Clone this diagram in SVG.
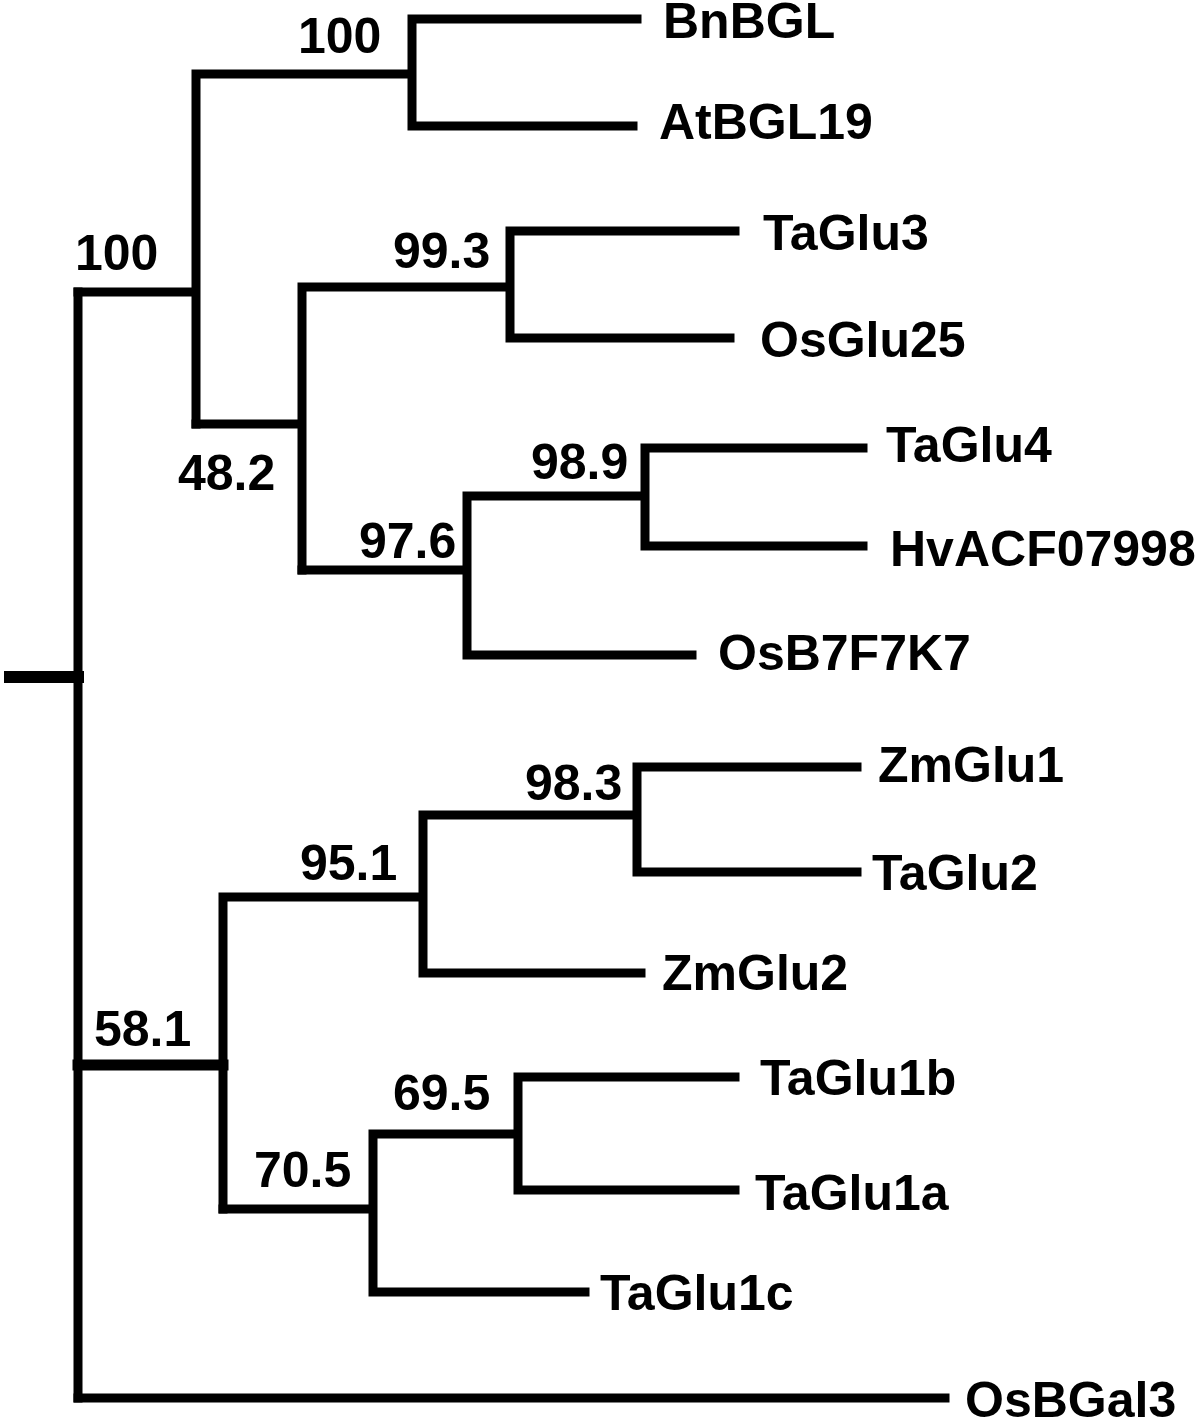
<svg xmlns="http://www.w3.org/2000/svg" width="1200" height="1425" viewBox="0 0 1200 1425">
<style>
.br{fill:none;stroke:#000;stroke-width:9;stroke-linecap:square;stroke-linejoin:miter}
.lb{font-family:"Liberation Sans",Arial,sans-serif;font-weight:bold;font-size:50px;fill:#000}
</style>
<rect width="1200" height="1425" fill="#fff"/>
<g id="connectors">
<path class="br" d="M10 677H78" style="stroke-width:12"/>
<path class="br" d="M78 292V1398"/>
<path class="br" d="M78 292H196M196 74V424M196 74H412M412 19V126M412 19H637M412 126H633"/>
<path class="br" d="M196 424H302M302 287V570M302 287H510M510 231V338M510 231H735M510 338H730"/>
<path class="br" d="M302 570H467M467 496V655M467 655H692M467 496H645M645 448V546M645 448H863M645 546H863"/>
<path class="br" d="M78 1065H223" style="stroke-width:11"/>
<path class="br" d="M223 897V1209M223 897H423M423 815V973M423 973H641M423 815H637M637 767V872M637 767H857M637 872H857"/>
<path class="br" d="M223 1209H373M373 1134V1292M373 1292H585M373 1134H518M518 1077V1190M518 1077H735M518 1190H735"/>
<path class="br" d="M78 1398H945"/>
</g>
<g id="support-labels">
<text class="lb" x="298" y="53">100</text>
<text class="lb" x="75" y="270">100</text>
<text class="lb" x="393" y="268">99.3</text>
<text class="lb" x="178" y="490">48.2</text>
<text class="lb" x="531" y="479">98.9</text>
<text class="lb" x="359" y="558">97.6</text>
<text class="lb" x="525" y="800">98.3</text>
<text class="lb" x="300" y="880">95.1</text>
<text class="lb" x="94" y="1046">58.1</text>
<text class="lb" x="254" y="1187">70.5</text>
<text class="lb" x="393" y="1110">69.5</text>
</g>
<g id="leaf-BnBGL"><text class="lb" x="663" y="38">BnBGL</text></g>
<g id="leaf-AtBGL19"><text class="lb" x="659" y="139">AtBGL19</text></g>
<g id="leaf-TaGlu3"><text class="lb" x="763" y="250">TaGlu3</text></g>
<g id="leaf-OsGlu25"><text class="lb" x="760" y="357">OsGlu25</text></g>
<g id="leaf-TaGlu4"><text class="lb" x="886" y="462">TaGlu4</text></g>
<g id="leaf-HvACF07998"><text class="lb" x="890" y="566">HvACF07998</text></g>
<g id="leaf-OsB7F7K7"><text class="lb" x="718" y="670">OsB7F7K7</text></g>
<g id="leaf-ZmGlu1"><text class="lb" x="878" y="782">ZmGlu1</text></g>
<g id="leaf-TaGlu2"><text class="lb" x="872" y="890">TaGlu2</text></g>
<g id="leaf-ZmGlu2"><text class="lb" x="662" y="990">ZmGlu2</text></g>
<g id="leaf-TaGlu1b"><text class="lb" x="760" y="1095">TaGlu1b</text></g>
<g id="leaf-TaGlu1a"><text class="lb" x="755" y="1210">TaGlu1a</text></g>
<g id="leaf-TaGlu1c"><text class="lb" x="600" y="1310">TaGlu1c</text></g>
<g id="leaf-OsBGal3"><text class="lb" x="965" y="1417">OsBGal3</text></g>
</svg>
